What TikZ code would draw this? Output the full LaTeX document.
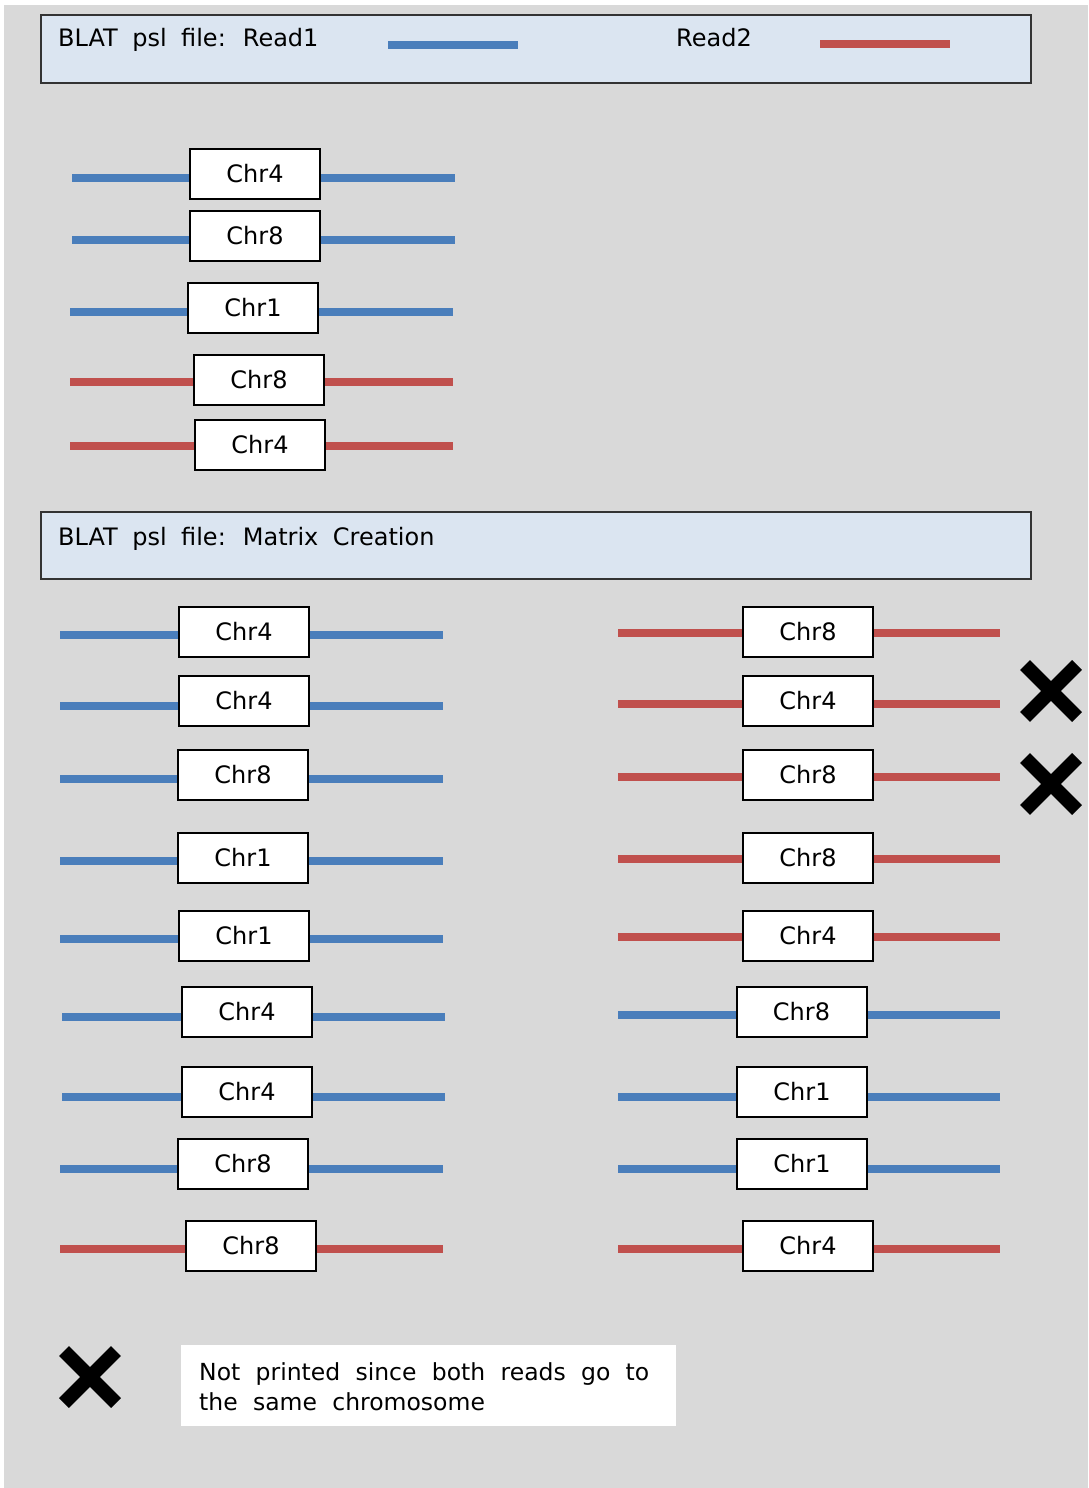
\documentclass[tikz,border=0pt]{standalone}
\usepackage{fontspec}
\setmainfont{DejaVu Sans}
\newcommand\hdrfontsetup{\fontsize{24}{28}\selectfont\spaceskip=14.5pt\relax}
\newcommand\keyfontsetup{\fontsize{23.5}{30}\selectfont\spaceskip=15.3pt\relax}
\begin{document}
\definecolor{bgray}{HTML}{D9D9D9}
\definecolor{hdrfill}{HTML}{DBE5F1}
\definecolor{readblue}{HTML}{4A7EBB}
\definecolor{readred}{HTML}{C0504D}
\tikzset{
  chrbox/.style={draw=black, line width=2pt, fill=white, minimum width=130pt,
    minimum height=50pt, inner sep=0pt, font=\fontsize{24}{28}\selectfont},
  readline/.style={line width=7.5pt},
  header/.style={draw=black!80, line width=2pt, fill=hdrfill},
  hdrtext/.style={anchor=base west, inner sep=0pt, font=\hdrfontsetup},
  keytext/.style={anchor=base west, inner sep=0pt, align=left, font=\keyfontsetup},
  cross/.style={line width=14pt, black},
}
% one alignment: box #4 at (#2,#3), read line of colour #5 at height #6 from x=#7 to x=#8
\newcommand\chrrow[8]{%
  \node[chrbox] (#1) at (#2,#3) {#4};
  \coordinate (#1-l) at (#7,#6);
  \coordinate (#1-r) at (#8,#6);
  \draw[readline,#5] (#1-l) -- (#1-l -| #1.west);
  \draw[readline,#5] (#1-r -| #1.east) -- (#1-r);
  \node[chrbox] at (#1) {#4};
}
% a cross of half-size #3 centred at (#1,#2)
\newcommand\crossmark[4]{%
  \coordinate (#4) at (#1,#2);
  \draw[cross] ([shift={(-#3,-#3)}]#4) -- ([shift={(#3,#3)}]#4);
  \draw[cross] ([shift={(-#3,#3)}]#4) -- ([shift={(#3,-#3)}]#4);
}
\begin{tikzpicture}[x=1pt,y=-1pt]
  \useasboundingbox (0,0) rectangle (1088,1488);
  \fill[bgray] (4,5) rectangle (1088,1488);

  % legend of the two reads
  \node[header, minimum width=990pt, minimum height=68pt, inner sep=0pt, anchor=north west] (legend) at (40,14) {};
  \node[hdrtext] (r1txt) at (58,47) {BLAT psl file: Read1};
  \coordinate (r1a) at (388,45);
  \coordinate (r1b) at (518,45);
  \draw[readline,readblue] (r1a) -- (r1b);
  \node[hdrtext] (r2txt) at (676,47) {Read2};
  \coordinate (r2a) at (820,44);
  \coordinate (r2b) at (950,44);
  \draw[readline,readred] (r2a) -- (r2b);

  % hits in the psl file
  \chrrow{t1}{255}{173.5}{Chr4}{readblue}{178}{72}{455}
  \chrrow{t2}{255}{235.5}{Chr8}{readblue}{240}{72}{455}
  \chrrow{t3}{253}{308}{Chr1}{readblue}{312}{70}{453}
  \chrrow{t4}{259}{380}{Chr8}{readred}{382}{70}{453}
  \chrrow{t5}{260}{445}{Chr4}{readred}{446}{70}{453}

  % matrix creation
  \node[header, minimum width=990pt, minimum height=67pt, inner sep=0pt, anchor=north west] (matrix) at (40,511) {};
  \node[hdrtext] (mtxt) at (58,545) {BLAT psl file: Matrix Creation};

  % Read1 column
  \chrrow{l1}{244}{632}{Chr4}{readblue}{635}{60}{443}
  \chrrow{l2}{244}{701}{Chr4}{readblue}{706}{60}{443}
  \chrrow{l3}{243}{775}{Chr8}{readblue}{779}{60}{443}
  \chrrow{l4}{243}{858}{Chr1}{readblue}{861}{60}{443}
  \chrrow{l5}{244}{936}{Chr1}{readblue}{939}{60}{443}
  \chrrow{l6}{247}{1012}{Chr4}{readblue}{1017}{62}{445}
  \chrrow{l7}{247}{1092}{Chr4}{readblue}{1097}{62}{445}
  \chrrow{l8}{243}{1164}{Chr8}{readblue}{1169}{60}{443}
  \chrrow{l9}{251}{1246}{Chr8}{readred}{1249}{60}{443}

  % Read2 column
  \chrrow{m1}{808}{632}{Chr8}{readred}{633}{618}{1000}
  \chrrow{m2}{808}{701}{Chr4}{readred}{704}{618}{1000}
  \chrrow{m3}{808}{775}{Chr8}{readred}{777}{618}{1000}
  \chrrow{m4}{808}{858}{Chr8}{readred}{859}{618}{1000}
  \chrrow{m5}{808}{936}{Chr4}{readred}{937}{618}{1000}
  \chrrow{m6}{801.5}{1012}{Chr8}{readblue}{1015}{618}{1000}
  \chrrow{m7}{802}{1092}{Chr1}{readblue}{1097}{618}{1000}
  \chrrow{m8}{802}{1164}{Chr1}{readblue}{1169}{618}{1000}
  \chrrow{m9}{808}{1246}{Chr4}{readred}{1249}{618}{1000}

  % pairs dropped
  \crossmark{1051}{691}{26}{x1}
  \crossmark{1051}{784}{26}{x2}

  % key
  \crossmark{90}{1377}{26}{xkey}
  \node[fill=white, minimum width=495pt, minimum height=81pt, anchor=north west, inner sep=0pt] (keybox) at (181,1345) {};
  \node[keytext] (keytxt) at (199,1410)
    {Not printed since both reads go to\\the same chromosome};
\end{tikzpicture}
\end{document}
